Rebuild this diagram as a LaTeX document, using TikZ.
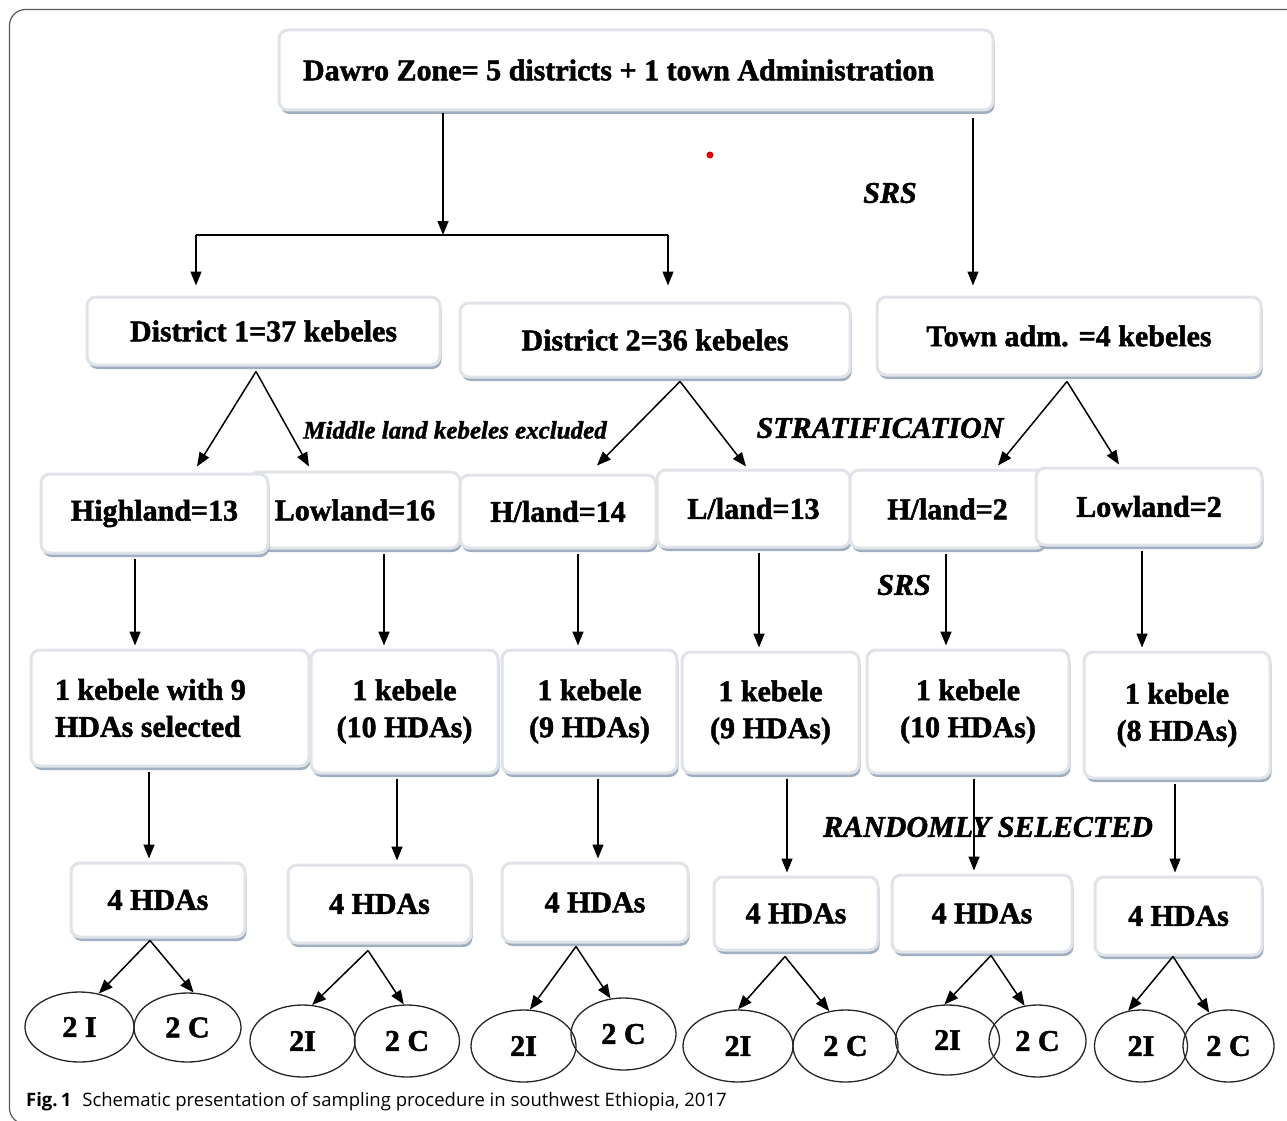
\documentclass[tikz,border=0pt]{standalone}
\usepackage{fontspec}
\setmainfont{Liberation Serif}[BoldFeatures={FakeBold=1.6},BoldItalicFeatures={FakeBold=1.6}]
\newfontfamily\capfont{Open Sans}
\usetikzlibrary{arrows.meta,shadows,shapes.geometric}
\definecolor{shadowc}{RGB}{150,166,188}
\definecolor{rimc}{RGB}{224,227,231}
\definecolor{framec}{RGB}{90,90,90}
\begin{document}
\begin{tikzpicture}[x=1pt,y=-1pt,
  box/.style={draw=rimc, line width=3pt, fill=white, rounded corners=9pt, inner sep=0pt,
    font=\fontsize{30}{37}\selectfont\bfseries, align=center,
    drop shadow={shadow xshift=1.5pt, shadow yshift=-4pt, fill=shadowc, opacity=0.9}},
  ell/.style={ellipse, draw=black!85, line width=1.3pt, inner sep=0pt,
    font=\fontsize{30}{36}\selectfont\bfseries},
  lab/.style={inner sep=0pt, font=\fontsize{30}{36}\selectfont\bfseries\itshape},
  arr/.style={draw=black, line width=1.5pt, -{Triangle[length=14pt,width=11pt]}},
  varr/.style={arr, shorten <=4pt, shorten >=3pt},
  plain/.style={draw=black, line width=1.5pt}
]
\clip (0,0) rectangle (1287,1121);
\fill[white] (0,0) rectangle (1287,1121);
% frame
\draw[framec, line width=1.2pt, rounded corners=16pt] (1320,9.5) -- (9.5,9.5) -- (9.5,1124) -- (60,1124);
% red dot
\fill[red!90!black] (710,155) circle (3.5pt);

% row 1
\node[box, align=left, inner xsep=24pt, minimum height=80pt] (top) at (636,70)
  {\makebox[666pt][l]{Dawro Zone= 5 districts + 1 town Administration}};

% row 2
\node[box, minimum width=353pt, minimum height=68pt] (d1) at (263.5,331) {District 1=37 kebeles};
\node[box, minimum width=390pt, minimum height=74pt] (d2) at (655,340) {District 2=36 kebeles};
\node[box, minimum width=384pt, minimum height=78pt] (town) at (1069,336) {Town adm. =4 kebeles};

% row 3
\node[box, minimum width=210pt, minimum height=76pt] (ll) at (355,510) {Lowland=16};
\node[box, minimum width=227pt, minimum height=79pt] (hl) at (154.5,513.5) {Highland=13};
\node[box, minimum width=196pt, minimum height=73pt] (h14) at (558,511.5) {H/land=14};
\node[box, minimum width=193pt, minimum height=77pt] (l13) at (753.5,508.5) {L/land=13};
\node[box, minimum width=195pt, minimum height=78pt] (h2) at (947.5,509) {H/land=2};
\node[box, minimum width=226pt, minimum height=77pt] (lw2) at (1149,506.5) {Lowland=2};

% row 4
\node[box, align=left, inner xsep=24pt, minimum height=116pt] (k1) at (170,708)
  {\makebox[230pt][l]{1 kebele with 9}\\HDAs selected};
\node[box, minimum width=187pt, minimum height=123pt] (k2) at (404.5,711.5) {1 kebele\\(10 HDAs)};
\node[box, minimum width=175pt, minimum height=123pt] (k3) at (589.5,711.5) {1 kebele\\(9 HDAs)};
\node[box, minimum width=177pt, minimum height=121pt] (k4) at (770.5,712.5) {1 kebele\\(9 HDAs)};
\node[box, minimum width=202pt, minimum height=123pt] (k5) at (968,711.5) {1 kebele\\(10 HDAs)};
\node[box, minimum width=186pt, minimum height=126pt] (k6) at (1177,715) {1 kebele\\(8 HDAs)};

% row 5
\node[box, minimum width=174pt, minimum height=74pt] (f1) at (158,900) {4 HDAs};
\node[box, minimum width=183pt, minimum height=78pt] (f2) at (379.5,904) {4 HDAs};
\node[box, minimum width=186pt, minimum height=79pt] (f3) at (595,902.5) {4 HDAs};
\node[box, minimum width=164pt, minimum height=73pt] (f4) at (796,913.5) {4 HDAs};
\node[box, minimum width=180pt, minimum height=77pt] (f5) at (982,913.5) {4 HDAs};
\node[box, minimum width=167pt, minimum height=78pt] (f6) at (1178.5,916) {4 HDAs};

% ellipses
\node[ell, minimum width=109pt, minimum height=70pt] (e1a) at (79.5,1027) {2 I};
\node[ell, minimum width=107pt, minimum height=69pt] (e1b) at (187.5,1027.5) {2 C};
\node[ell, minimum width=105pt, minimum height=72pt] (e2a) at (302.5,1041) {2I};
\node[ell, minimum width=105pt, minimum height=72pt] (e2b) at (407,1041) {2 C};
\node[ell, minimum width=105pt, minimum height=72pt] (e3a) at (523.5,1046) {2I};
\node[ell, minimum width=105pt, minimum height=72pt] (e3b) at (623.5,1034) {2 C};
\node[ell, minimum width=110pt, minimum height=72pt] (e4a) at (738,1046) {2I};
\node[ell, minimum width=105pt, minimum height=72pt] (e4b) at (845.5,1046) {2 C};
\node[ell, minimum width=104pt, minimum height=70pt] (e5a) at (947.5,1040) {2I};
\node[ell, minimum width=97pt, minimum height=72pt] (e5b) at (1037.5,1041) {2 C};
\node[ell, minimum width=93pt, minimum height=72pt] (e6a) at (1141,1046) {2I};
\node[ell, minimum width=91pt, minimum height=72pt] (e6b) at (1228.5,1046) {2 C};

% labels
\node[lab] (srs1) at (890,193) {SRS};
\node[lab, font=\fontsize{25}{30}\selectfont\bfseries\itshape] (mid) at (455,430) {Middle land kebeles excluded};
\node[lab] (strat) at (880,428) {STRATIFICATION};
\node[lab] (srs2) at (904,585) {SRS};
\node[lab] (rand) at (988,827) {RANDOMLY SELECTED};

% x positions of vertical connectors
\coordinate (j0) at (443,235);
\coordinate (xd1) at (196,0);
\coordinate (xd2) at (668,0);
\coordinate (xt) at (973,0);
\coordinate (v1) at (135,0);
\coordinate (v2) at (384,0);
\coordinate (v3) at (578,0);
\coordinate (v4) at (759,0);
\coordinate (v5) at (946,0);
\coordinate (v6) at (1142,0);
\coordinate (w1) at (149,0);
\coordinate (w2) at (397,0);
\coordinate (w3) at (598,0);
\coordinate (w4) at (787,0);
\coordinate (w5) at (974,0);
\coordinate (w6) at (1175,0);

% row 1 connectors
\draw[arr, shorten <=2pt] (top.south -| j0) -- (j0);
\draw[plain] (j0 -| xd1) -- (j0 -| xd2);
\draw[arr, shorten >=10pt] (j0 -| xd1) -- (d1.north -| xd1);
\draw[arr, shorten >=16pt] (j0 -| xd2) -- (d2.north -| xd2);
\draw[arr, shorten <=7pt, shorten >=10pt] (top.south -| xt) -- (town.north -| xt);

% row 2 -> row 3
\draw[arr] ([xshift=-7.5pt,yshift=-5pt]d1.south) -- ([xshift=42.5pt,yshift=6pt]hl.north);
\draw[arr] ([xshift=-7.5pt,yshift=-5pt]d1.south) -- ([xshift=-46pt,yshift=4pt]ll.north);
\draw[arr] ([xshift=25pt,yshift=-3pt]d2.south) -- ([xshift=39pt,yshift=8pt]h14.north);
\draw[arr] ([xshift=25pt,yshift=-3pt]d2.south) -- ([xshift=-7.5pt,yshift=2pt]l13.north);
\draw[arr] ([xshift=-2pt,yshift=-5pt]town.south) -- ([xshift=50.5pt,yshift=3pt]h2.north);
\draw[arr] ([xshift=-2pt,yshift=-5pt]town.south) -- ([xshift=-30pt,yshift=2pt]lw2.north);

% row 3 -> row 4
\draw[varr] (hl.south -| v1) -- (k1.north -| v1);
\draw[varr] (ll.south -| v2) -- (k2.north -| v2);
\draw[varr] (h14.south -| v3) -- (k3.north -| v3);
\draw[varr] (l13.south -| v4) -- (k4.north -| v4);
\draw[varr] (h2.south -| v5) -- (k5.north -| v5);
\draw[varr] (lw2.south -| v6) -- (k6.north -| v6);

% row 4 -> row 5
\draw[varr] (k1.south -| w1) -- (f1.north -| w1);
\draw[varr] (k2.south -| w2) -- (f2.north -| w2);
\draw[varr] (k3.south -| w3) -- (f3.north -| w3);
\draw[varr] (k4.south -| w4) -- (f4.north -| w4);
\draw[varr] (k5.south -| w5) -- (f5.north -| w5);
\draw[varr] (k6.south -| w6) -- (f6.north -| w6);

% row 5 -> ellipses
\draw[arr] ([xshift=-8pt,yshift=-2pt]f1.south) -- (e1a.60);
\draw[arr] ([xshift=-8pt,yshift=-2pt]f1.south) -- (e1b.80);
\draw[arr] ([xshift=-11.5pt,yshift=-6pt]f2.south) -- (e2a.75);
\draw[arr] ([xshift=-11.5pt,yshift=-6pt]f2.south) -- (e2b.95);
\draw[arr] ([xshift=-19pt,yshift=-3pt]f3.south) -- (e3a.80);
\draw[arr] ([xshift=-19pt,yshift=-3pt]f3.south) -- (e3b.110);
\draw[arr] ([xshift=-11pt,yshift=-5pt]f4.south) -- (e4a.90);
\draw[arr] ([xshift=-11pt,yshift=-5pt]f4.south) -- (e4b.115);
\draw[arr] ([xshift=9pt,yshift=-2pt]f5.south) -- (e5a.95);
\draw[arr] ([xshift=9pt,yshift=-2pt]f5.south) -- (e5b.110);
\draw[arr] ([xshift=-5.5pt,yshift=0pt]f6.south) -- (e6a.110);
\draw[arr] ([xshift=-5.5pt,yshift=0pt]f6.south) -- (e6b.120);

% caption
\node[anchor=west, inner sep=0pt, font=\capfont\fontsize{18.5}{22}\selectfont] (cap) at (26,1102)
  {\textbf{Fig.\,1}\hspace{11pt}Schematic presentation of sampling procedure in southwest Ethiopia, 2017};
\end{tikzpicture}
\end{document}
